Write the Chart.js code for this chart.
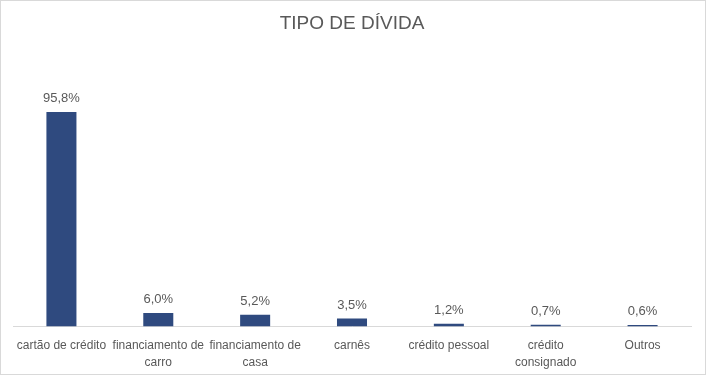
<!DOCTYPE html>
<html>
<head>
<meta charset="utf-8">
<script src="https://cdn.jsdelivr.net/npm/chart.js@4"></script>
<style>
html,body{margin:0;padding:0;background:#fff;}
#wrap{width:706px;height:375px;box-sizing:border-box;border:1px solid #d9d9d9;position:relative;}
canvas{display:block;}
</style>
</head>
<body>
<div id="wrap"><canvas id="c" width="704" height="373"></canvas></div>
<script>
const categories = ['cartão de crédito', ['financiamento de','carro'], ['financiamento de','casa'], 'carnês', 'crédito pessoal', ['crédito','consignado'], 'Outros'];
const values = [95.8, 6.0, 5.2, 3.5, 1.2, 0.7, 0.6];
const titleText = 'TIPO DE DÍVIDA';

const FONT = "'Liberation Sans', Arial, sans-serif";
const TXT = '#595959';

const labelPlugin = {
  id: 'valueLabels',
  afterDatasetsDraw(chart) {
    const ctx = chart.ctx;
    const meta = chart.getDatasetMeta(0);
    ctx.save();
    ctx.font = '13px ' + FONT;
    ctx.fillStyle = TXT;
    ctx.textAlign = 'center';
    ctx.textBaseline = 'bottom';
    meta.data.forEach((bar, i) => {
      const v = chart.data.datasets[0].data[i];
      ctx.fillText(v.toFixed(1).replace('.', ',') + '%', bar.x, bar.y - 7);
    });
    ctx.restore();
  }
};

new Chart(document.getElementById('c'), {
  type: 'bar',
  data: {
    labels: categories,
    datasets: [{
      data: values,
      backgroundColor: '#2f4a7f',
      categoryPercentage: 1,
      barPercentage: 0.31
    }]
  },
  options: {
    responsive: false,
    animation: false,
    layout: { padding: { left: 12, right: 14, top: 0, bottom: -8 } },
    plugins: {
      legend: { display: false },
      tooltip: { enabled: false },
      title: {
        display: true,
        text: titleText,
        color: TXT,
        font: { family: FONT, size: 19, weight: 'normal' },
        padding: { top: 11, bottom: 23 }
      }
    },
    scales: {
      x: {
        grid: { display: false, drawTicks: false },
        border: { display: true, color: '#d9d9d9', width: 1 },
        ticks: {
          color: TXT,
          font: { family: FONT, size: 12, lineHeight: 1.4 },
          maxRotation: 0,
          minRotation: 0,
          autoSkip: false,
          padding: 11
        }
      },
      y: {
        display: false,
        min: 0,
        max: 120
      }
    }
  },
  plugins: [labelPlugin]
});
</script>
</body>
</html>
